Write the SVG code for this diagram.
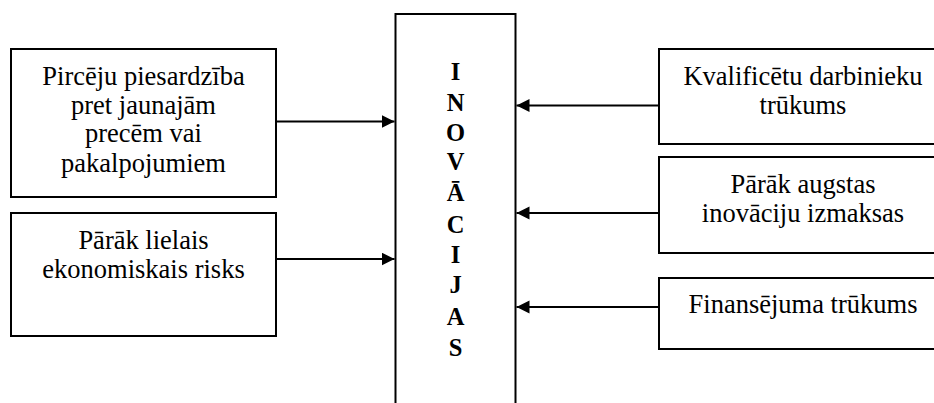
<svg xmlns="http://www.w3.org/2000/svg" width="934" height="403" viewBox="0 0 934 403">
<defs>
<marker id="ah" markerUnits="userSpaceOnUse" markerWidth="14" markerHeight="14" refX="13" refY="6.5" orient="auto">
<path d="M0,0 L13,6.5 L0,13 Z" fill="#000"/>
</marker>
<style>
.box{fill:#fff;stroke:#000;stroke-width:2}
.t{font-size:26.5px;fill:#000;text-anchor:middle}
.c{font-size:24.5px;font-weight:bold;fill:#000;text-anchor:middle}
.ln{stroke:#000;stroke-width:1.8;fill:none;marker-end:url(#ah)}
</style>
</defs>
<rect width="934" height="403" fill="#fff"/>
<g font-family="Liberation Serif, Times New Roman, DejaVu Serif, serif">
<g id="center">
<rect class="box" x="395.5" y="14" width="120" height="400"/>
<text class="c" x="455.5" y="79.5">I</text>
<text class="c" x="455.5" y="111">N</text>
<text class="c" x="455.5" y="140.5">O</text>
<text class="c" x="455.5" y="170">V</text>
<text class="c" x="455.5" y="201">Ā</text>
<text class="c" x="455.5" y="233">C</text>
<text class="c" x="455.5" y="263">I</text>
<text class="c" x="455.5" y="293">J</text>
<text class="c" x="455.5" y="325">A</text>
<text class="c" x="455.5" y="356">S</text>
</g>
<g id="left1">
<rect class="box" x="11" y="49" width="265" height="148"/>
<text class="t" x="143.5" y="85">Pircēju piesardzība</text>
<text class="t" x="143.5" y="114">pret jaunajām</text>
<text class="t" x="143.5" y="142">precēm vai</text>
<text class="t" x="143.5" y="171.5">pakalpojumiem</text>
</g>
<g id="left2">
<rect class="box" x="11" y="213" width="265" height="123"/>
<text class="t" x="143.5" y="249">Pārāk lielais</text>
<text class="t" x="143.5" y="277.5">ekonomiskais risks</text>
</g>
<g id="right1">
<rect class="box" x="659" y="49" width="290" height="95"/>
<text class="t" x="803" y="85">Kvalificētu darbinieku</text>
<text class="t" x="803" y="114">trūkums</text>
</g>
<g id="right2">
<rect class="box" x="659" y="157" width="290" height="96"/>
<text class="t" x="803" y="193">Pārāk augstas</text>
<text class="t" x="803" y="222">inovāciju izmaksas</text>
</g>
<g id="right3">
<rect class="box" x="659" y="278" width="290" height="71"/>
<text class="t" x="803" y="313">Finansējuma trūkums</text>
</g>
</g>
<g id="connectors">
<line class="ln" x1="276" y1="121.5" x2="394.5" y2="121.5"/>
<line class="ln" x1="276" y1="259" x2="394.5" y2="259"/>
<line class="ln" x1="659" y1="105.5" x2="516.5" y2="105.5"/>
<line class="ln" x1="659" y1="213" x2="516.5" y2="213"/>
<line class="ln" x1="659" y1="307" x2="516.5" y2="307"/>
</g>
</svg>
